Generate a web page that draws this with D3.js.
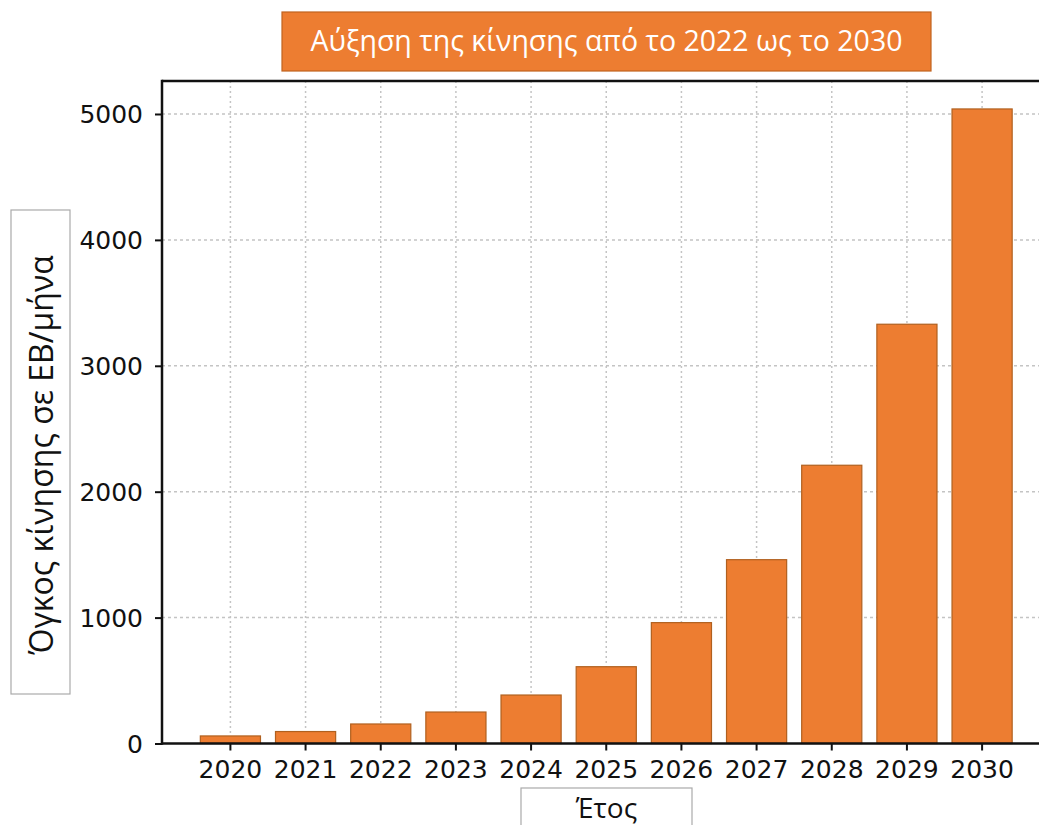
<!DOCTYPE html>
<html>
<head>
<meta charset="utf-8">
<script src="https://cdn.jsdelivr.net/npm/d3@7"></script>
<style>
  html, body { margin: 0; padding: 0; background: #ffffff; }
  svg { display: block; }
</style>
</head>
<body>
<svg id="chart" width="1039" height="825"></svg>
<script>
// Yearly traffic volume (EB per month)
const years = ["2020", "2021", "2022", "2023", "2024", "2025", "2026", "2027", "2028", "2029", "2030"];
const traffic = [60, 95, 155, 250, 385, 610, 960, 1460, 2210, 3330, 5040];
const yTicks = [0, 1000, 2000, 3000, 4000, 5000];
const yLimit = 5262;

const titleText = "Αύξηση της κίνησης από το 2022 ως το 2030";
const yLabelText = "Όγκος κίνησης σε ΕΒ/μήνα";
const xLabelText = "Έτος";

const svg = d3.select("#chart");

const plot = { left: 162, right: 1050.5, top: 81, bottom: 743.5 };
const orange = "#ed7d31";
const orangeEdge = "#b0601f";
const tickFont = "'DejaVu Sans', sans-serif";
const labelFont = "'Open Sans', sans-serif";

const x = d3.scaleBand()
  .domain(years)
  .range([plot.left, plot.right])
  .paddingInner(0.2)
  .paddingOuter(0.51);

const y = d3.scaleLinear()
  .domain([0, yLimit])
  .range([plot.bottom, plot.top]);

// dotted grid
const grid = svg.append("g").attr("class", "grid");
grid.selectAll("line.gx")
  .data(years)
  .join("line")
  .attr("class", "gx")
  .attr("x1", d => x(d) + x.bandwidth() / 2)
  .attr("x2", d => x(d) + x.bandwidth() / 2)
  .attr("y1", plot.top)
  .attr("y2", plot.bottom)
  .attr("stroke", "#c4c4c4")
  .attr("stroke-width", 1.5)
  .attr("stroke-dasharray", "2,3");
grid.selectAll("line.gy")
  .data(yTicks.filter(v => v > 0))
  .join("line")
  .attr("class", "gy")
  .attr("x1", plot.left)
  .attr("x2", plot.right)
  .attr("y1", d => y(d))
  .attr("y2", d => y(d))
  .attr("stroke", "#c4c4c4")
  .attr("stroke-width", 1.5)
  .attr("stroke-dasharray", "3,3");

// bars
svg.append("g")
  .selectAll("rect")
  .data(years.map((yr, i) => ({ yr, v: traffic[i] })))
  .join("rect")
  .attr("x", d => x(d.yr))
  .attr("width", x.bandwidth())
  .attr("y", d => y(d.v))
  .attr("height", d => y(0) - y(d.v))
  .attr("fill", orange)
  .attr("stroke", orangeEdge)
  .attr("stroke-width", 1.2);

// axes
const xAxis = svg.append("g")
  .attr("transform", `translate(0,${plot.bottom})`)
  .call(d3.axisBottom(x).tickSize(7).tickPadding(10).tickSizeOuter(0));
const yAxis = svg.append("g")
  .attr("transform", `translate(${plot.left},0)`)
  .call(d3.axisLeft(y).tickValues(yTicks).tickFormat(d3.format("d")).tickSize(7).tickPadding(12).tickSizeOuter(0));

[xAxis, yAxis].forEach(g => {
  g.select(".domain").remove();
  g.selectAll(".tick line").attr("stroke", "#111").attr("stroke-width", 2);
  g.selectAll(".tick text")
    .attr("fill", "#111")
    .style("font-family", tickFont)
    .style("font-size", "25px");
});
yAxis.selectAll(".tick text").attr("dy", "0.36em");

// spines
const spines = svg.append("g").attr("stroke", "#111").attr("stroke-width", 2.5).attr("fill", "none");
spines.append("line").attr("x1", plot.left).attr("x2", plot.left).attr("y1", plot.top - 1.25).attr("y2", plot.bottom + 1.25);
spines.append("line").attr("x1", plot.left).attr("x2", plot.right).attr("y1", plot.top).attr("y2", plot.top);
spines.append("line").attr("x1", plot.left).attr("x2", plot.right).attr("y1", plot.bottom).attr("y2", plot.bottom);

// title box
const tb = { x: 282, y: 12, w: 649, h: 59 };
svg.append("rect")
  .attr("x", tb.x).attr("y", tb.y).attr("width", tb.w).attr("height", tb.h)
  .attr("fill", orange).attr("stroke", "#c0631f").attr("stroke-width", 1.2);
svg.append("text")
  .attr("x", tb.x + tb.w / 2).attr("y", tb.y + tb.h / 2)
  .attr("text-anchor", "middle").attr("dy", "0.35em")
  .attr("fill", "#ffffff")
  .style("font-family", labelFont).style("font-size", "28.5px")
  .text(titleText);

// y label box
const yb = { x: 11, y: 210, w: 59, h: 484 };
svg.append("rect")
  .attr("x", yb.x).attr("y", yb.y).attr("width", yb.w).attr("height", yb.h)
  .attr("fill", "#ffffff").attr("stroke", "#aaaaaa").attr("stroke-width", 1.2);
svg.append("text")
  .attr("transform", `translate(${yb.x + yb.w / 2 + 1},${yb.y + yb.h / 2 + 3}) rotate(-90)`)
  .attr("text-anchor", "middle").attr("dy", "0.35em")
  .attr("fill", "#111")
  .style("font-family", labelFont).style("font-size", "32px")
  .text(yLabelText);

// x label box
const xb = { x: 521, y: 788, w: 171, h: 50 };
svg.append("rect")
  .attr("x", xb.x).attr("y", xb.y).attr("width", xb.w).attr("height", xb.h)
  .attr("fill", "#ffffff").attr("stroke", "#aaaaaa").attr("stroke-width", 1.2);
svg.append("text")
  .attr("x", xb.x + xb.w / 2).attr("y", 818)
  .attr("text-anchor", "middle")
  .attr("fill", "#111")
  .style("font-family", labelFont).style("font-size", "28px")
  .text(xLabelText);
</script>
</body>
</html>
